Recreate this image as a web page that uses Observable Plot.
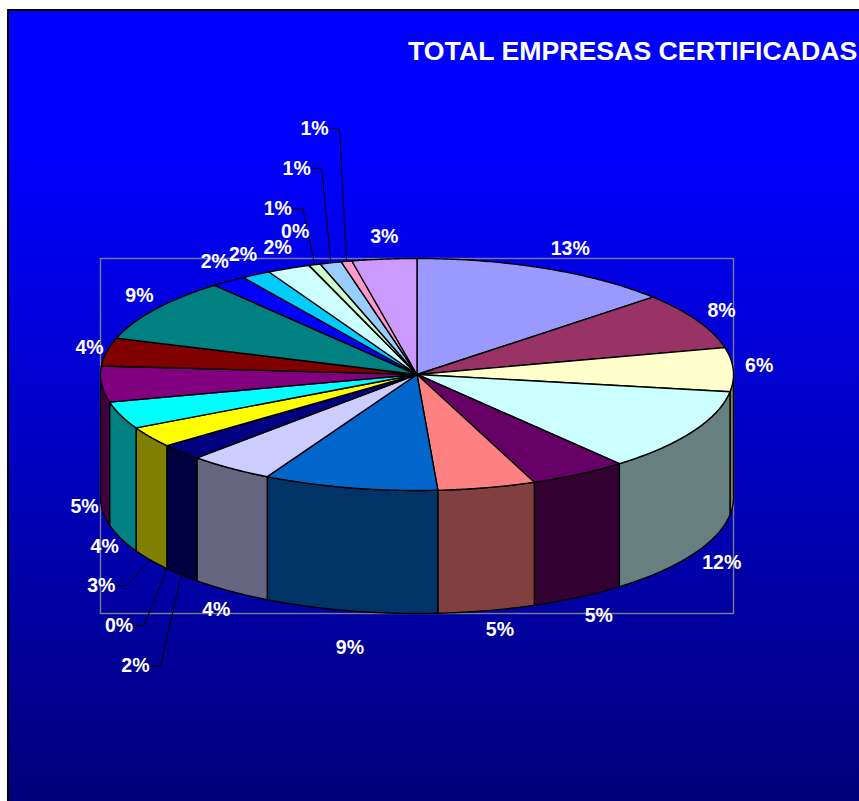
<!DOCTYPE html>
<html>
<head>
<meta charset="utf-8">
<script src="https://cdn.jsdelivr.net/npm/d3@7"></script>
<script src="https://cdn.jsdelivr.net/npm/@observablehq/plot@0.6"></script>
<style>
  html, body { margin: 0; padding: 0; background: #fff; overflow: hidden; }
  #slide {
    position: absolute; left: 7px; top: 9px; width: 852px; height: 792px;
    box-sizing: border-box; border-left: 2px solid #000; border-top: 2px solid #000;
    background: linear-gradient(#0000ff 0, #0000ff 130px, #00007a 100%);
  }
  #chart { position: absolute; left: 0; top: 0; }
  #chart svg { background: transparent; display: block; }
  #title {
    position: absolute; left: 408px; top: 36px; white-space: nowrap;
    font: bold 26.7px "Liberation Sans", Arial, sans-serif; color: #fff; line-height: 30px;
  }
</style>
</head>
<body>
<div id="slide"></div>
<div id="chart"></div>
<div id="title">TOTAL EMPRESAS CERTIFICADAS</div>
<script>
// Chart data, clockwise from the top of the pie
const shares = [13.4, 7.9, 6.1, 11.6, 5, 5, 8.9, 4.4, 2.25, 0.02, 2.88, 3.8, 5, 3.9, 8.9, 1.8, 1.5, 2.2, 0.02, 0.58, 1.1, 0.55, 3.3];
const labels = ["13%", "8%", "6%", "12%", "5%", "5%", "9%", "4%", "2%", "0%", "3%", "4%", "5%", "4%", "9%", "2%", "2%", "2%", "0%", "1%", "1%", "1%", "3%"];
const topColors = ["#9999FF", "#993366", "#FFFFCC", "#CCFFFF", "#660066", "#FF8080", "#0066CC", "#CCCCFF", "#000080", "#FF00FF", "#FFFF00", "#00FFFF", "#800080", "#800000", "#008080", "#0000FF", "#00CCFF", "#CCFFFF", "#CCFFCC", "#CCFFCC", "#99CCFF", "#FF99CC", "#CC99FF"];
const wallColors = ["#4C4C80", "#4C1933", "#808066", "#668080", "#330033", "#804040", "#003366", "#666680", "#000040", "#800080", "#808000", "#008080", "#400040", "#400000", "#004040", "#000080", "#006680", "#668080", "#668066", "#668066", "#4C6680", "#804C66", "#664C80"];

// Layout: pixel shift of each label from its slice's rim point; which ones have leader lines
const labelShift = [[24,-20],[24,-10],[26,-4],[29,8],[20,19],[13,19],[0,37],[-14,19],[-46,91],[-48,57],[-49,26],[-16,8],[-17,0],[-17,-4],[-16,-13],[-14,-20],[-13,-20],[-11,-21],[-14,-34],[-37,-56],[-34,-94.5],[-32,-133],[0,-22]];
const withLeader = new Set([8, 9, 10, 19, 20, 21]);

const W = 859, H = 801, L = 100, R = 733, T = 258, B = 613;
const rxPx = (R - L) / 2, ryPx = 116, depth = (B - T - 2 * ryPx) / ryPx;
const total = d3.sum(shares);
let cum = 0;
const slices = shares.map((s, i) => {
  const a0 = cum / total * 360; cum += s;
  return {i, a0, a1: cum / total * 360, top: topColors[i], wall: wallColors[i], label: labels[i]};
});
const rad = a => a * Math.PI / 180;
const arc = (a0, a1) => {
  const n = Math.max(1, Math.ceil((a1 - a0) / 0.5)), out = [];
  for (let k = 0; k <= n; k++) {
    const a = a0 + (a1 - a0) * k / n;
    out.push([Math.sin(rad(a)), Math.cos(rad(a))]);
  }
  return out;
};

const topPts = slices.flatMap(s => {
  const ring = [[0, 0], ...arc(s.a0, s.a1), [0, 0]];
  return ring.map(([x, y]) => ({x, y, key: "t" + s.i, color: s.top}));
});
const wallPts = slices.filter(s => s.a1 > 90 && s.a0 < 270).flatMap(s => {
  const rim = arc(Math.max(s.a0, 90), Math.min(s.a1, 270));
  const ring = [...rim.map(([x, y]) => [x, y]), ...rim.slice().reverse().map(([x, y]) => [x, y - depth])];
  ring.push(ring[0]);
  return ring.map(([x, y]) => ({x, y, key: "w" + s.i, color: s.wall}));
});
const labelRows = slices.map(s => {
  const mid = rad((s.a0 + s.a1) / 2), ax = Math.sin(mid), c = Math.cos(mid);
  const ay = c < 0 ? c - depth : c;
  const [ox, oy] = labelShift[s.i];
  return {i: s.i, label: s.label, ax, ay, x: ax + ox / rxPx, y: ay - oy / ryPx};
});
const leaderPts = labelRows.filter(d => withLeader.has(d.i)).flatMap(d => [
  {x: d.x + 13 / rxPx, y: d.y, key: d.i},
  {x: d.x + 25 / rxPx, y: d.y, key: d.i},
  {x: d.ax, y: d.ay, key: d.i}
]);

const plot = Plot.plot({
  width: W, height: H,
  marginLeft: L, marginRight: W - R, marginTop: T, marginBottom: H - B,
  x: {domain: [-1, 1], axis: null},
  y: {domain: [-1 - depth, 1], axis: null},
  style: {background: "transparent", overflow: "visible"},
  marks: [
    Plot.frame({stroke: "#7A7A90", strokeWidth: 1.4}),
    Plot.line(wallPts, {x: "x", y: "y", z: "key", fill: "color", stroke: "#000", strokeWidth: 1.4, curve: "linear"}),
    Plot.line(topPts, {x: "x", y: "y", z: "key", fill: "color", stroke: "#000", strokeWidth: 1.4, curve: "linear"}),
    Plot.line(leaderPts, {x: "x", y: "y", z: "key", stroke: "#000", strokeWidth: 1, curve: "linear"}),
    Plot.text(labelRows, {x: "x", y: "y", text: "label", fill: "#fff", fontSize: 19.5, fontWeight: "bold", fontFamily: "Liberation Sans, Arial, sans-serif"})
  ]
});
document.getElementById("chart").appendChild(plot);
</script>
</body>
</html>
